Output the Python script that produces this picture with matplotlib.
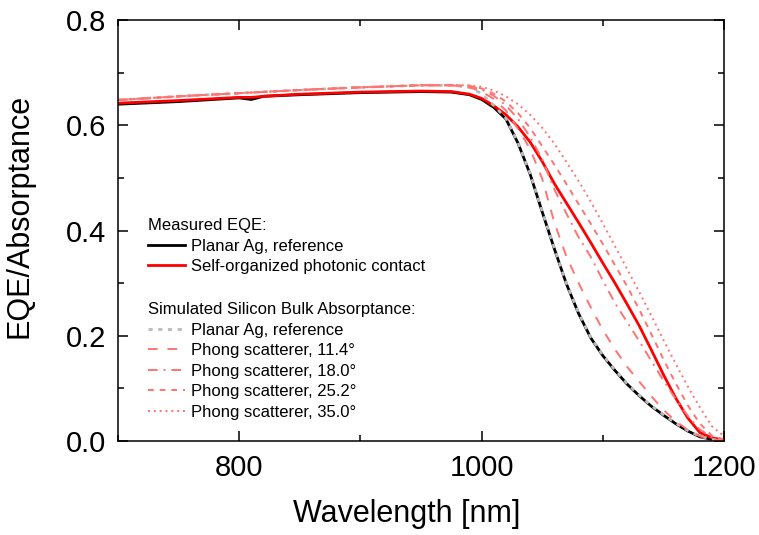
import numpy as np
import matplotlib
matplotlib.use("Agg")
import matplotlib.pyplot as plt
from matplotlib.ticker import MultipleLocator

plt.rcParams["font.family"] = ["Liberation Sans", "DejaVu Sans"]

# ---------------------------------------------------------
# measured EQE
# ---------------------------------------------------------
wl_meas = [700, 750, 800, 810, 820, 850, 900, 950, 975, 990, 1000,
           1010, 1020, 1030, 1040, 1050, 1060, 1070, 1080, 1090, 1100,
           1110, 1120, 1130, 1140, 1150, 1160, 1170, 1180, 1190, 1200]

eqe_planar = [0.640, 0.645, 0.652, 0.649, 0.655, 0.658, 0.662, 0.664, 0.663, 0.658, 0.649,
              0.634, 0.612, 0.566, 0.507, 0.435, 0.365, 0.298, 0.242, 0.196, 0.162,
              0.134, 0.108, 0.086, 0.066, 0.049, 0.033, 0.019, 0.008, 0.003, 0.001]

eqe_photonic = [0.642, 0.647, 0.653, 0.653, 0.655, 0.659, 0.663, 0.665, 0.664, 0.659, 0.651,
                0.637, 0.620, 0.597, 0.568, 0.531, 0.489, 0.452, 0.415, 0.377, 0.338,
                0.300, 0.260, 0.219, 0.173, 0.126, 0.082, 0.044, 0.016, 0.006, 0.002]

# ---------------------------------------------------------
# simulated bulk absorptance
# ---------------------------------------------------------
wl_sim = [700, 750, 800, 850, 900, 950, 975, 990, 1000,
          1010, 1020, 1030, 1040, 1050, 1060, 1070, 1080, 1090, 1100,
          1110, 1120, 1130, 1140, 1150, 1160, 1170, 1180, 1190, 1200]

sim_planar = [0.648, 0.655, 0.661, 0.667, 0.672, 0.676, 0.676, 0.672, 0.660,
              0.638, 0.613, 0.567, 0.508, 0.436, 0.366, 0.299, 0.243, 0.197, 0.163,
              0.135, 0.109, 0.087, 0.067, 0.050, 0.034, 0.020, 0.009, 0.003, 0.001]

sim_114 = [0.648, 0.655, 0.661, 0.667, 0.672, 0.676, 0.676, 0.672, 0.664,
           0.650, 0.628, 0.593, 0.555, 0.498, 0.415, 0.350, 0.300, 0.254, 0.211,
           0.174, 0.141, 0.113, 0.085, 0.059, 0.038, 0.021, 0.009, 0.003, 0.001]

sim_180 = [0.648, 0.655, 0.661, 0.667, 0.672, 0.676, 0.676, 0.674, 0.668,
           0.656, 0.638, 0.612, 0.578, 0.535, 0.478, 0.432, 0.387, 0.350, 0.305,
           0.262, 0.226, 0.190, 0.152, 0.115, 0.080, 0.048, 0.022, 0.007, 0.002]

sim_252 = [0.648, 0.655, 0.661, 0.667, 0.672, 0.676, 0.676, 0.675, 0.670,
           0.660, 0.645, 0.623, 0.595, 0.560, 0.525, 0.488, 0.450, 0.413, 0.374,
           0.334, 0.294, 0.250, 0.203, 0.155, 0.110, 0.068, 0.033, 0.010, 0.003]

sim_350 = [0.648, 0.655, 0.661, 0.667, 0.672, 0.676, 0.676, 0.676, 0.673,
           0.666, 0.655, 0.640, 0.620, 0.595, 0.565, 0.530, 0.494, 0.455, 0.413,
           0.370, 0.327, 0.283, 0.238, 0.192, 0.147, 0.104, 0.064, 0.028, 0.009]

pink = "#ff7373"

fig = plt.figure(figsize=(7.59, 5.35), dpi=100)
ax = fig.add_axes([0.1555, 0.1757, 0.7985, 0.7869])

l1, = ax.plot(wl_meas, eqe_planar, color="black", lw=2.0, label="Planar Ag, reference")
l2, = ax.plot(wl_meas, eqe_photonic, color="#ff0000", lw=2.0, label="Self-organized photonic contact")

s1, = ax.plot(wl_sim, sim_planar, color="#bbbbbb", lw=2.0, dashes=(1.5, 2),
              label="Planar Ag, reference")
s2, = ax.plot(wl_sim, sim_114, color=pink, lw=1.4, dashes=(5, 5),
              label="Phong scatterer, 11.4°")
s3, = ax.plot(wl_sim, sim_180, color=pink, lw=1.4, dashes=(5, 3, 1, 3),
              label="Phong scatterer, 18.0°")
s4, = ax.plot(wl_sim, sim_252, color=pink, lw=1.4, dashes=(3, 3),
              label="Phong scatterer, 25.2°")
s5, = ax.plot(wl_sim, sim_350, color=pink, lw=1.4, dashes=(1, 2),
              label="Phong scatterer, 35.0°")

ax.set_xlim(700, 1200)
ax.set_ylim(0, 0.8)
ax.xaxis.set_major_locator(MultipleLocator(200))
ax.xaxis.set_minor_locator(MultipleLocator(100))
ax.yaxis.set_major_locator(MultipleLocator(0.2))
ax.yaxis.set_minor_locator(MultipleLocator(0.1))
ax.tick_params(which="both", direction="in", top=True, right=True, width=1.1)
ax.tick_params(which="major", length=7.5, labelsize=21)
ax.tick_params(which="minor", length=4)
ax.tick_params(axis="x", pad=9)
ax.tick_params(axis="y", pad=8.5)
for sp in ax.spines.values():
    sp.set_linewidth(1.1)

ax.set_xlabel("Wavelength [nm]", fontsize=22)
ax.set_ylabel("EQE/Absorptance", fontsize=22)
ax.xaxis.set_label_coords(0.477, -0.138)
ax.yaxis.set_label_coords(-0.137, 0.534)

leg_opts = dict(loc="upper left", frameon=False, fontsize=12, title_fontsize=12,
                handlelength=2.2, handletextpad=0.35, borderpad=0,
                borderaxespad=0, labelspacing=0.33, alignment="left")

leg1 = ax.legend(handles=[l1, l2], title="Measured EQE:",
                 bbox_to_anchor=(0.05, 0.529), **leg_opts)
ax.add_artist(leg1)
ax.legend(handles=[s1, s2, s3, s4, s5], title="Simulated Silicon Bulk Absorptance:",
          bbox_to_anchor=(0.05, 0.33), **leg_opts)

fig.savefig("out.png", dpi=100)
